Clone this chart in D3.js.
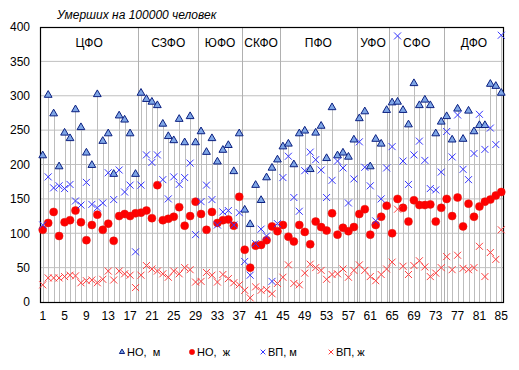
<!DOCTYPE html>
<html>
<head>
<meta charset="utf-8">
<script src="https://cdn.jsdelivr.net/npm/d3@7"></script>
<style>
  body { margin: 0; background: #fff; }
  svg { font-family: "Liberation Sans", Arial, sans-serif; }
</style>
</head>
<body>
<script>
// regions 1..85, grouped by federal district
const regions = d3.range(1, 86);
const districts = ["ЦФО", "СЗФО", "ЮФО", "СКФО", "ПФО", "УФО", "СФО", "ДФО"];
const districtSizes = [18, 11, 8, 7, 14, 6, 10, 11];

const xTicks = [1, 5, 9, 13, 17, 21, 25, 29, 33, 37, 41, 45, 49, 53, 57, 61, 65, 69, 73, 77, 81, 85];
const yTicks = [0, 50, 100, 150, 200, 250, 300, 350, 400];

// НО, м
const noMale = [213, 301, 274, 197, 246, 238, 280, 254, 217, 199, 302, 234, 245, 186, 271, 265, 245, 186,
  304, 295, 291, 286, 259, 241, 235, 266, 232, 270, 232,
  248, 218, 238, 204, 221, 228, 190, 245,
  134, 113, 170, 148, 181, 195, 207,
  226, 230, 200, 245, 249, 193, 246, 256, 209, 283, 213, 217, 211, 236,
  267, 277, 197, 237, 230, 279,
  290, 291, 279, 258, 318, 286, 294, 286, 245, 262,
  270, 236, 281, 237, 278, 248, 257, 257, 317, 314, 304];
// НО, ж
const noFemale = [105, 115, 131, 96, 116, 119, 133, 116, 90, 112, 127, 105, 114, 89, 125, 128, 125, 129,
  130, 133, 122, 170, 119, 121, 124, 138, 111, 125, 146,
  128, 105, 131, 115, 119, 120, 111, 153,
  76, 50, 82, 83, 90, 110, 103,
  112, 95, 88, 112, 102, 84, 117, 109, 104, 129, 98, 108, 103, 109,
  128, 135, 98, 112, 124, 140,
  100, 150, 137, 117, 148, 141, 141, 142, 117, 137,
  150, 125, 152, 110, 143, 124, 139, 146, 149, 155, 160];
// ВП, м
const vpMale = [112, 182, 166, 169, 165, 171, 147, 141, 174, 142, 137, 144, 188, 149, 192, 160, 170, 73,
  170, 214, 203, 214, 178, 150, 182, 171, 181, 202, 98,
  146, 170, 149, 112, 131, 133, 112, 130,
  59, 39, 85, 106, 96, 30, 114,
  181, 212, 152, 132, 191, 218, 207, 192, 152, 177, 205, 195, 144, 179,
  233, 196, 169, 118, 150, 195,
  226, 387, 205, 171, 214, 234, 206, 165, 163, 189,
  248, 211, 272, 193, 178, 216, 273, 222, 253, 229, 388];
// ВП, ж
const vpFemale = [25, 35, 35, 35, 37, 39, 38, 28, 31, 32, 28, 33, 45, 32, 45, 41, 39, 21,
  39, 53, 48, 45, 41, 36, 45, 41, 50, 47, 29,
  30, 43, 39, 29, 40, 34, 28, 25,
  17, 6, 22, 17, 18, 12, 27,
  36, 54, 27, 25, 42, 55, 50, 46, 33, 40, 41, 48, 36, 46,
  54, 46, 37, 31, 40, 48,
  58, 135, 52, 40, 53, 60, 51, 37, 42, 50,
  66, 47, 68, 49, 47, 50, 81, 37, 72, 62, 105];

const width = 519, height = 370;
const margin = { top: 27, right: 15, bottom: 68, left: 40 };

const svg = d3.select("body")
  .append("svg")
  .attr("width", width)
  .attr("height", height);

const x = d3.scalePoint()
  .domain(regions)
  .range([margin.left, width - margin.right])
  .padding(0.5);

const y = d3.scaleLinear()
  .domain([0, 400])
  .range([height - margin.bottom, margin.top]);

const step = x.step();

// horizontal grid
svg.append("g")
  .selectAll("line")
  .data(yTicks.slice(1, -1))
  .join("line")
  .attr("x1", margin.left)
  .attr("x2", width - margin.right)
  .attr("y1", (d) => y(d))
  .attr("y2", (d) => y(d))
  .attr("stroke", "#c0c0c0")
  .attr("stroke-width", 1);

// district separators
const bounds = d3.cumsum(districtSizes);
svg.append("g")
  .selectAll("line")
  .data(Array.from(bounds).slice(0, -1))
  .join("line")
  .attr("x1", (d) => Math.round(x(d) + step / 2) + 0.5)
  .attr("x2", (d) => Math.round(x(d) + step / 2) + 0.5)
  .attr("y1", y(400))
  .attr("y2", y(0))
  .attr("stroke", "#b0b0b0");

// district names centred over their ranges
svg.append("g")
  .selectAll("text")
  .data(districts)
  .join("text")
  .attr("x", (d, i) => {
    const from = i === 0 ? 0 : bounds[i - 1];
    return x(1) - step / 2 + step * (from + bounds[i]) / 2;
  })
  .attr("y", 47)
  .attr("text-anchor", "middle")
  .attr("font-size", 12)
  .attr("fill", "#000")
  .text((d) => d);

// drop lines from the highest value down to the axis
const highs = regions.map((r, i) => d3.max([noMale[i], noFemale[i], vpMale[i], vpFemale[i]]));
svg.append("g")
  .selectAll("line")
  .data(regions)
  .join("line")
  .attr("x1", (d) => Math.round(x(d)) + 0.5)
  .attr("x2", (d) => Math.round(x(d)) + 0.5)
  .attr("y1", (d, i) => y(highs[i]))
  .attr("y2", y(0))
  .attr("stroke", "#bdbdbd");

// plot frame
svg.append("rect")
  .attr("x", margin.left + 0.5)
  .attr("y", margin.top + 0.5)
  .attr("width", width - margin.left - margin.right - 1)
  .attr("height", height - margin.top - margin.bottom)
  .attr("fill", "none")
  .attr("stroke", "#000")
  .attr("stroke-width", 1.2);

// axes labels
svg.append("g")
  .selectAll("text")
  .data(yTicks)
  .join("text")
  .attr("x", 30)
  .attr("y", (d) => y(d))
  .attr("dy", "0.36em")
  .attr("text-anchor", "end")
  .attr("font-size", 12)
  .text((d) => d);

svg.append("g")
  .selectAll("text")
  .data(xTicks)
  .join("text")
  .attr("x", (d) => x(d))
  .attr("y", 320)
  .attr("text-anchor", "middle")
  .attr("font-size", 12)
  .text((d) => d);

svg.append("text")
  .attr("x", 57)
  .attr("y", 19)
  .attr("font-size", 12)
  .attr("font-style", "italic")
  .text("Умерших на 100000 человек");

const cross = (s) => `M${-s},${-s}L${s},${s}M${-s},${s}L${s},${-s}`;
const tri = d3.symbol().type(d3.symbolTriangle).size(26)();

const series = [
  { name: "НО,  м", values: noMale, kind: "tri" },
  { name: "НО,  ж", values: noFemale, kind: "dot" },
  { name: "ВП, м", values: vpMale, kind: "xb" },
  { name: "ВП, ж", values: vpFemale, kind: "xr" },
];

function addMarker(sel, kind, scale) {
  if (kind === "tri") {
    sel.append("path")
      .attr("d", d3.symbol().type(d3.symbolTriangle).size(26 * scale)())
      .attr("fill", "#7fa6e6")
      .attr("stroke", "#0a1f80")
      .attr("stroke-width", 1);
  } else if (kind === "dot") {
    sel.append("circle")
      .attr("r", 4 * Math.sqrt(scale))
      .attr("fill", "#ff0000")
      .attr("stroke", "#e21a10")
      .attr("stroke-width", 0.5);
  } else {
    sel.append("path")
      .attr("d", cross(3.5 * Math.sqrt(scale)))
      .attr("fill", "none")
      .attr("stroke", kind === "xb" ? "#3535ff" : "#ff3c3c")
      .attr("stroke-width", 1);
  }
}

series.forEach((s) => {
  svg.append("g")
    .selectAll("g")
    .data(s.values)
    .join("g")
    .attr("transform", (d, i) => `translate(${x(regions[i])},${y(d)})`)
    .each(function () { addMarker(d3.select(this), s.kind, 1); });
});

// legend
const legendX = [122, 192, 263, 331];
const legend = svg.append("g")
  .selectAll("g")
  .data(series)
  .join("g")
  .attr("transform", (d, i) => `translate(${legendX[i]},352)`);

legend.each(function (d) { addMarker(d3.select(this), d.kind, 0.45); });

legend.append("text")
  .attr("x", 5)
  .attr("dy", "0.35em")
  .attr("font-size", 11)
  .style("white-space", "pre")
  .text((d) => d.name);
</script>
</body>
</html>
